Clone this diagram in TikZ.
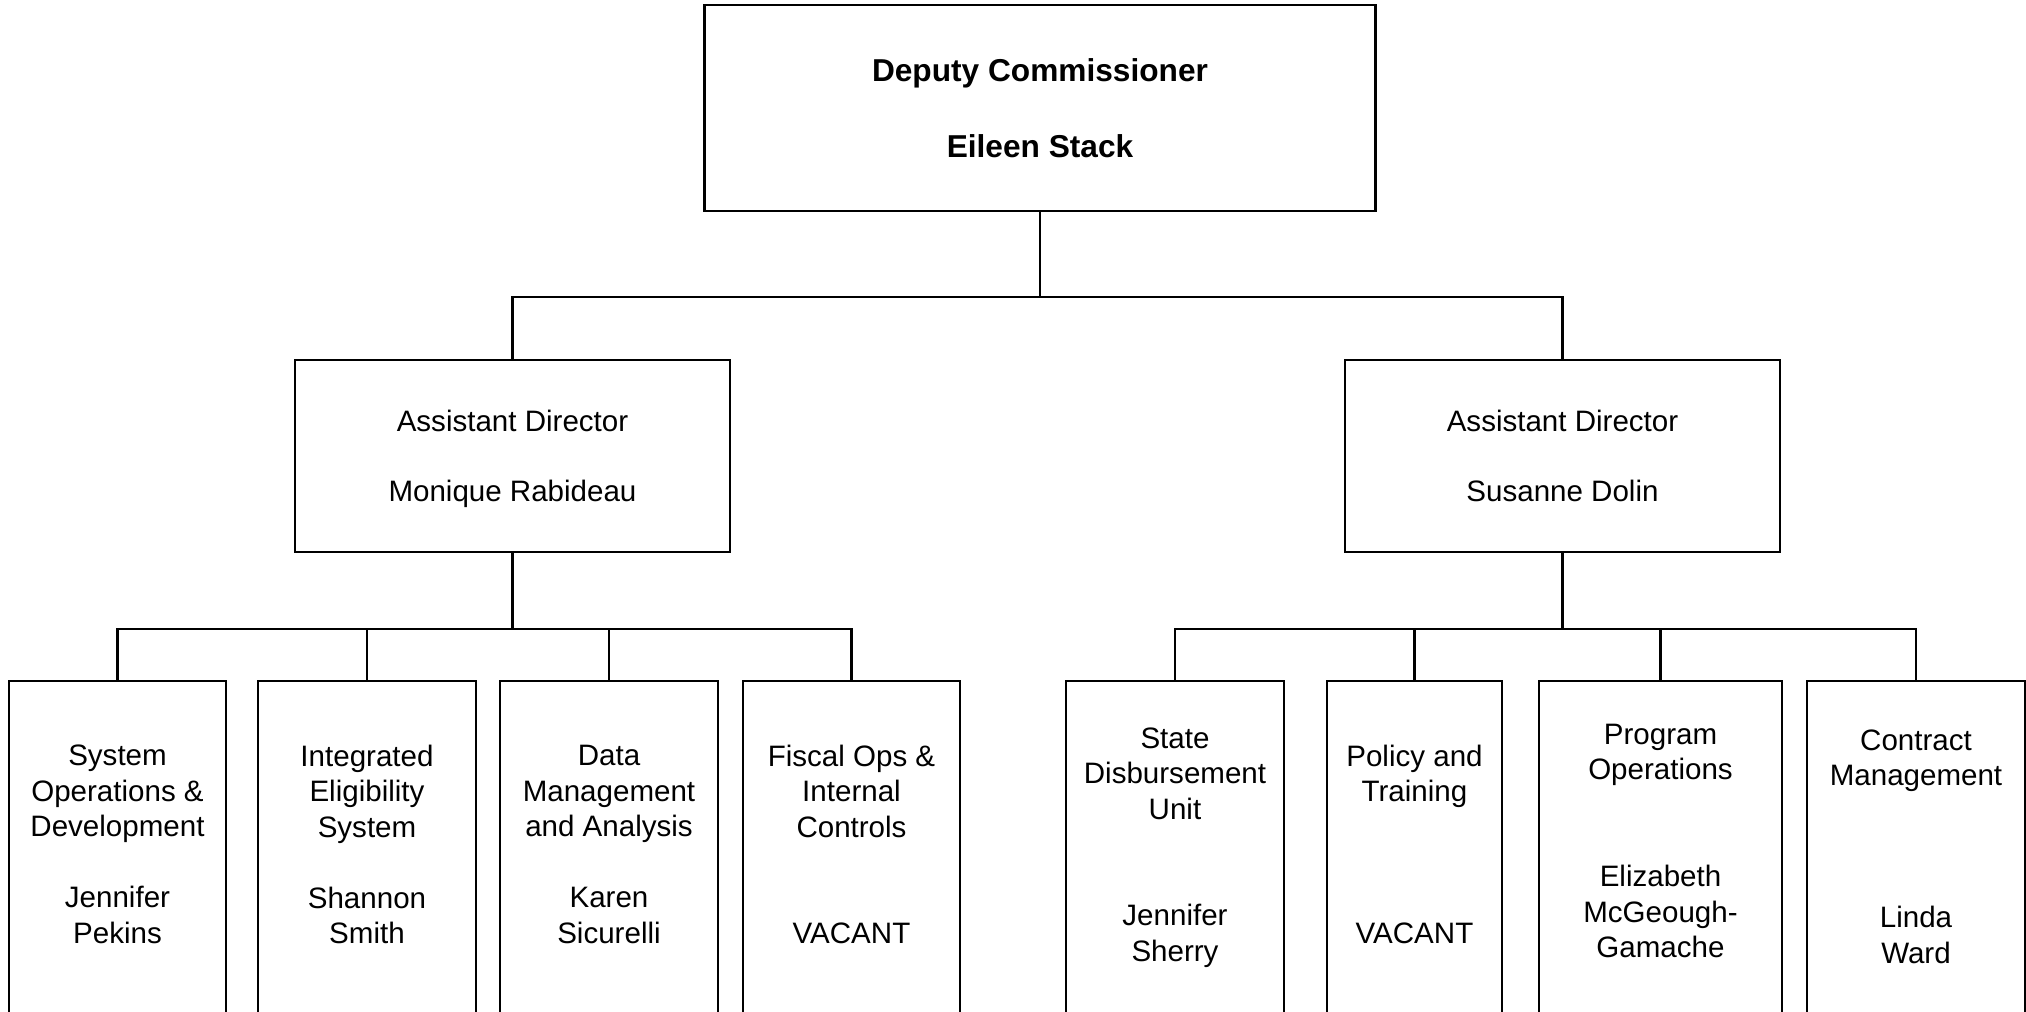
\documentclass[tikz,border=0pt]{standalone}
\usepackage{fontspec}
\setmainfont{Liberation Sans}
\usetikzlibrary{positioning}

\begin{document}
\begin{tikzpicture}
		[x=0.01cm,y=-0.01cm,
		box node/.style={shape=rectangle,draw,line width=0.7pt,fill=white,align=center,inner sep=0pt,font=\fontsize{8.4}{10.1}\selectfont},
		unit node/.style={box node,anchor=north,minimum height=3.32cm,text depth=1.8pt},
		link/.style={line width=0.6pt}]
		\useasboundingbox (0,0) rectangle (2026,1011);
		\clip (0,0) rectangle (2026,1011);
		
		\node [box node,minimum width=6.71cm,minimum height=2.06cm,font=\fontsize{9}{10.8}\selectfont\bfseries] (dc) at (1040,108) {Deputy Commissioner\\[10.8pt]Eileen Stack};
		
		\node [box node,minimum width=4.35cm,minimum height=1.915cm,text depth=0pt] (ad1) at (512.5,456) {Assistant Director\\[9.8pt]Monique Rabideau};
		\node [box node,minimum width=4.35cm,minimum height=1.915cm,text depth=0pt] (ad2) at (1562.5,456) {Assistant Director\\[9.8pt]Susanne Dolin};
		
		\node [unit node,minimum width=2.17cm] (u1) at (117.5,680) {System\\Operations \&\\Development\\[10.1pt]Jennifer\\Pekins};
		\node [unit node,minimum width=2.18cm] (u2) at (367,680) {Integrated\\Eligibility\\System\\[10.1pt]Shannon\\Smith};
		\node [unit node,minimum width=2.18cm] (u3) at (609,680) {Data\\Management\\and Analysis\\[10.1pt]Karen\\Sicurelli};
		\node [unit node,minimum width=2.17cm] (u4) at (851.5,680) {Fiscal Ops \&\\Internal\\Controls\\[20.2pt]VACANT};
		
		\node [unit node,minimum width=2.18cm,text depth=1.6pt] (u5) at (1175,680) {State\\Disbursement\\Unit\\[20.2pt]Jennifer\\Sherry};
		\node [unit node,minimum width=1.75cm] (u6) at (1414.5,680) {Policy and\\Training\\[30.3pt]VACANT};
		\node [unit node,minimum width=2.43cm,text depth=3.7pt] (u7) at (1660.5,680) {Program\\Operations\\[20.2pt]Elizabeth\\McGeough-\\Gamache};
		\node [unit node,minimum width=2.18cm,text depth=0.6pt] (u8) at (1916,680) {Contract\\Management\\[30.3pt]Linda\\Ward};
		
		\coordinate (bus0) at (1040,297);
		\coordinate (bus1) at (512.5,629);
		\coordinate (bus2) at (1562.5,629);
		
		\path[draw,link]
		(dc) -- (bus0)
		(bus0) -| (ad1)
		(bus0) -| (ad2)
		
		(ad1) -- (bus1)
		(bus1) -| (u1)
		(bus1) -| (u2)
		(bus1) -| (u3)
		(bus1) -| (u4)
		
		(ad2) -- (bus2)
		(bus2) -| (u5)
		(bus2) -| (u6)
		(bus2) -| (u7)
		(bus2) -| (u8)
		;
		
		\end{tikzpicture}
\end{document}
